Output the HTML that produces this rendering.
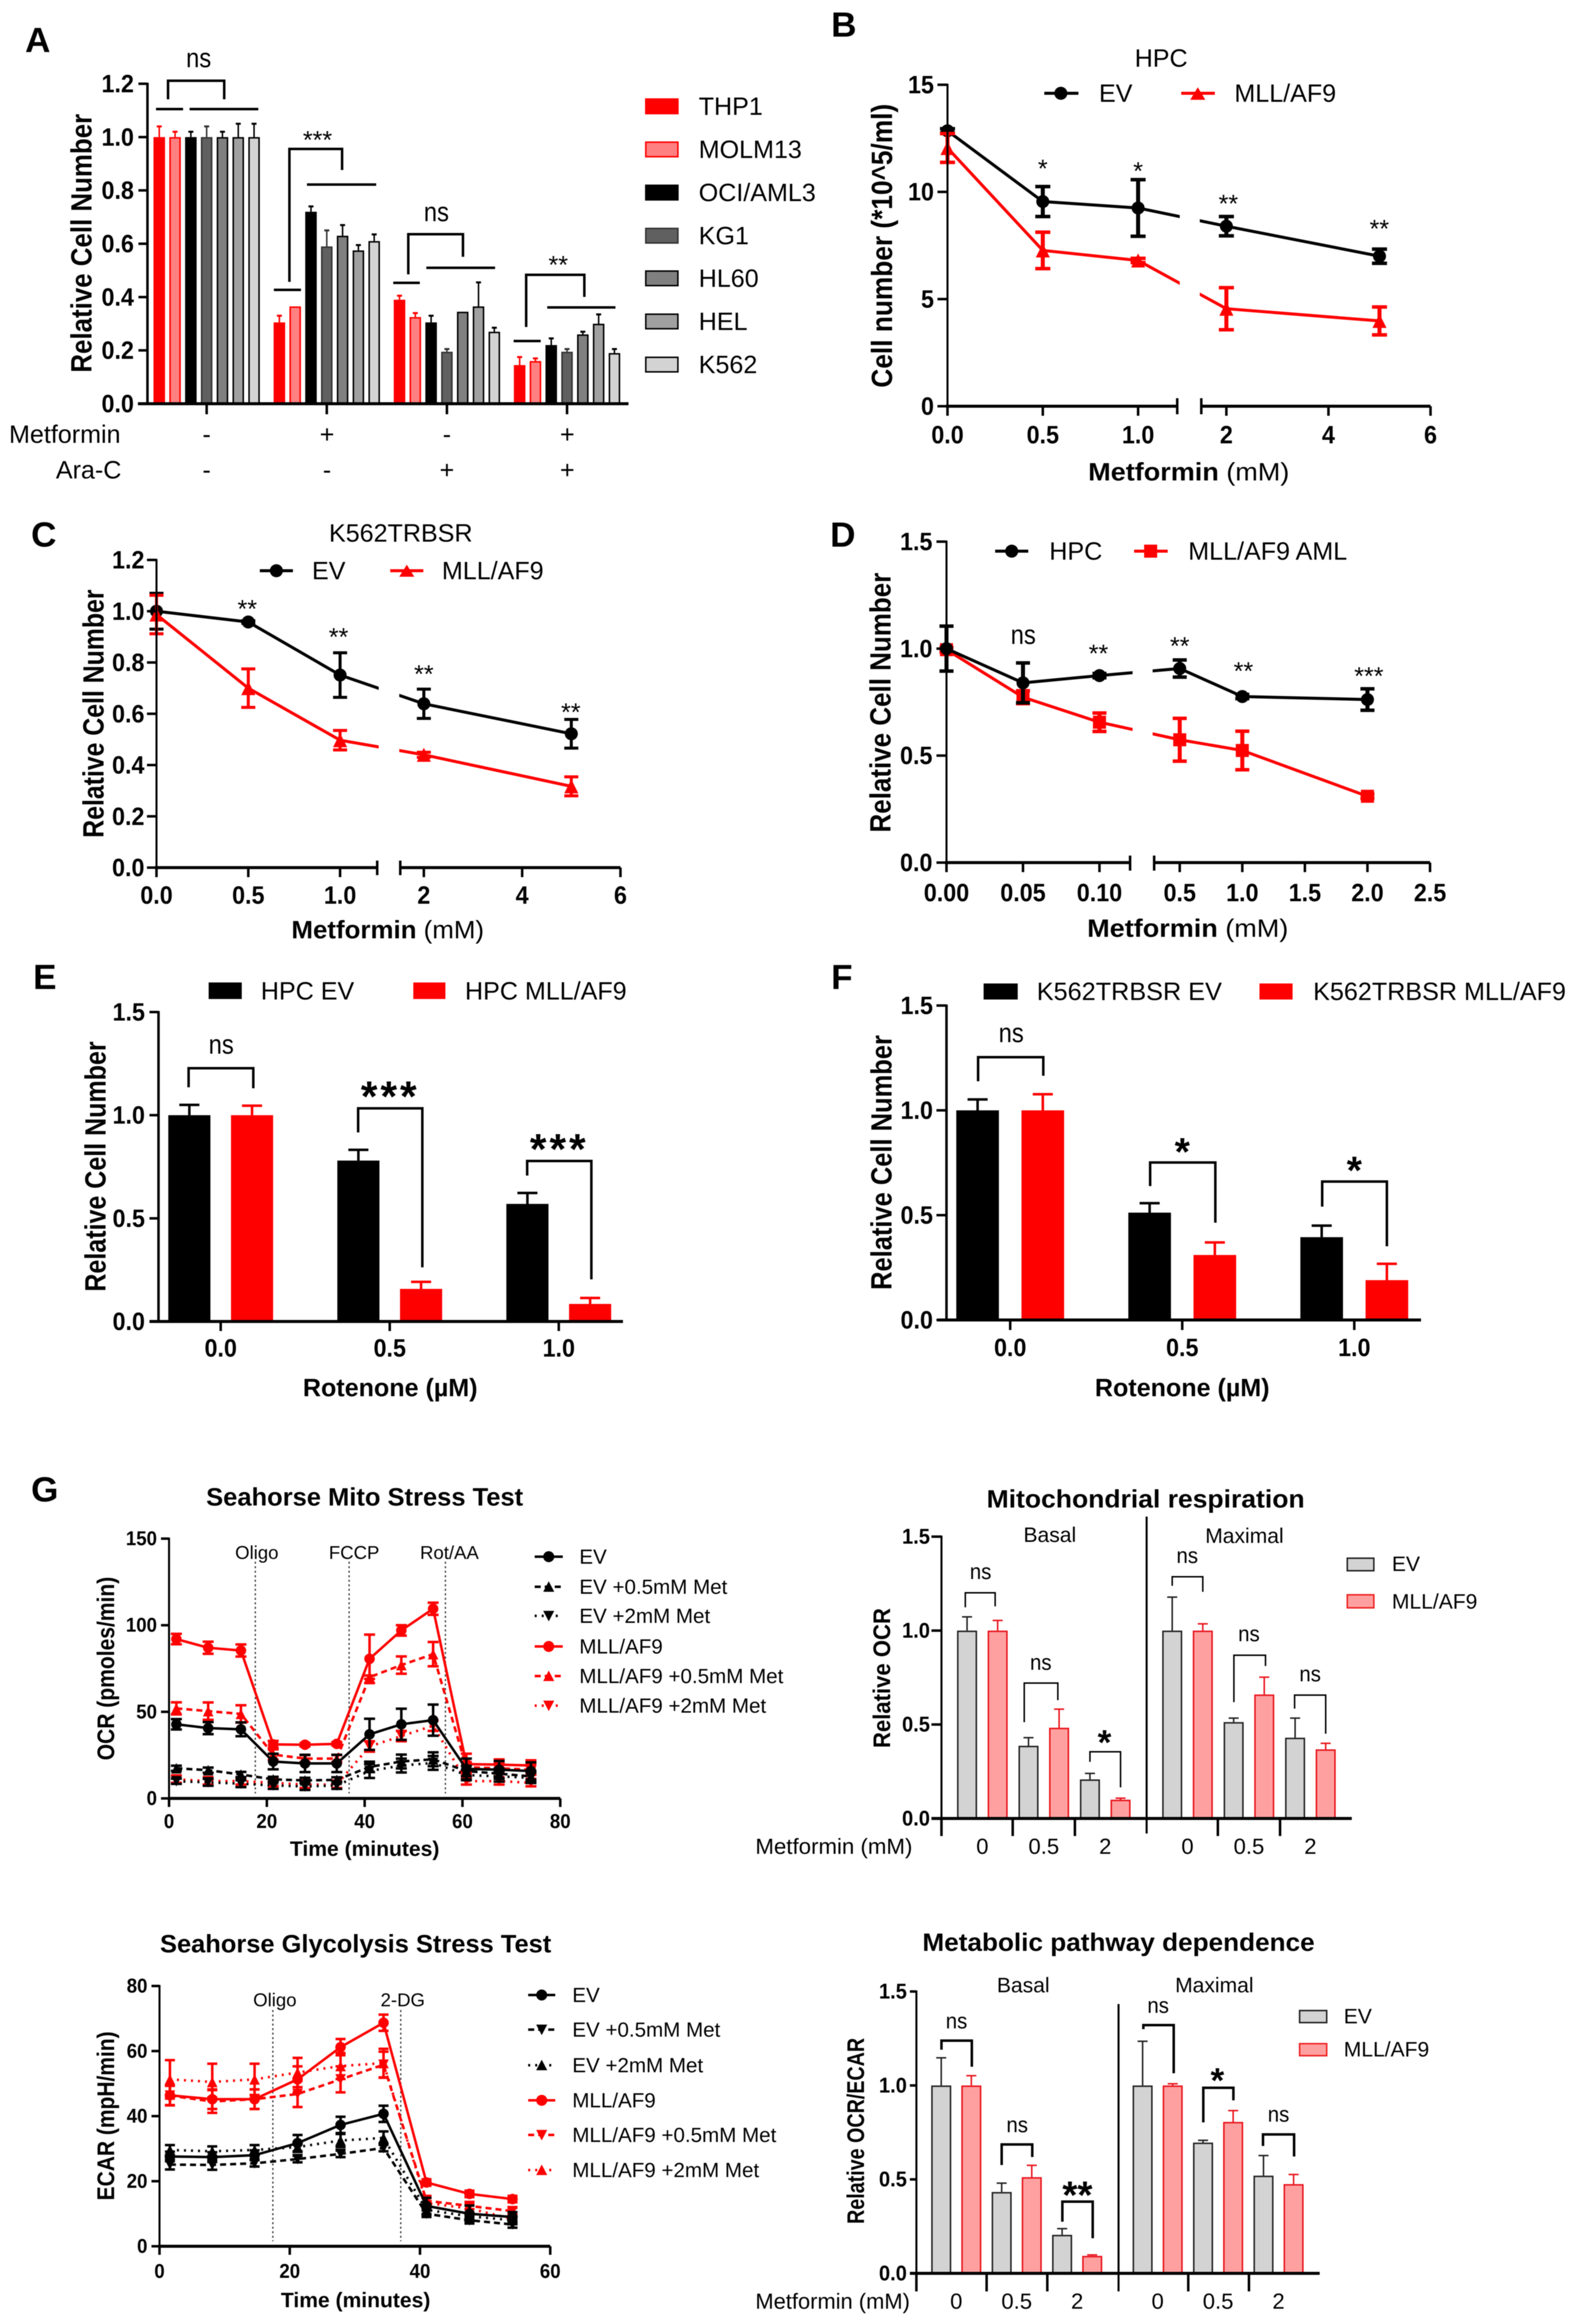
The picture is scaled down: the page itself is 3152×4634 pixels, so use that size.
<!DOCTYPE html>
<html lang="en">
<head>
<meta charset="utf-8">
<title>Metformin and rotenone sensitivity figure</title>
<style>
html,body{margin:0;padding:0;background:#fff;width:3152px;height:4634px;overflow:hidden}
svg{display:block;filter:blur(.7px)}
text{font-family:"Liberation Sans",Arial,sans-serif;fill:#000;dominant-baseline:central}
.b{font-weight:bold}
.m{text-anchor:middle}
.e{text-anchor:end}
.s70{font-size:70px}.s58{font-size:58px}.s54{font-size:54px}.s50{font-size:50px}.s48{font-size:48px}.s44{font-size:44px}.s43{font-size:43px}.s42{font-size:42px}.s41{font-size:41px}.s40{font-size:40px}.s37{font-size:37px}
.br{fill:none;stroke:#000;stroke-width:5}
.br3{fill:none;stroke:#000;stroke-width:3}
.vd{stroke:#333;stroke-width:2.5;stroke-dasharray:4 5}
</style>
</head>
<body>
<svg id="figure" xmlns="http://www.w3.org/2000/svg" width="3152" height="4634" viewBox="0 0 3152 4634">
<rect x="0" y="0" width="3152" height="4634" fill="#fff"/>

<g id="panel-a">
  <text class="b s70" x="50" y="80">A</text>
  <text class="b s58 m" x="163" y="485" textLength="516" lengthAdjust="spacingAndGlyphs" transform="rotate(-90 163 485)">Relative Cell Number</text>
  <text class="s50" x="18" y="866">Metformin</text>
  <text class="s50 e" x="242" y="937">Ara-C</text>
  <text class="s50 m" x="412" y="866">-</text>
  <text class="s50 m" x="652" y="866">+</text>
  <text class="s50 m" x="891" y="866">-</text>
  <text class="s50 m" x="1131" y="866">+</text>
  <text class="s50 m" x="412" y="937">-</text>
  <text class="s50 m" x="652" y="937">-</text>
  <text class="s50 m" x="891" y="937">+</text>
  <text class="s50 m" x="1131" y="937">+</text>
  <text class="s54 m" x="396" y="116" textLength="50" lengthAdjust="spacingAndGlyphs">ns</text>
  <path class="br" d="M335 198V161H447V198"/>
  <path class="br" stroke-width="6" d="M311 217.5H365M378 217.5H515"/>
  <text class="s50 m" x="633" y="279">***</text>
  <path class="br" d="M577 562V297H682V339"/>
  <path class="br" d="M546 578H600M612 368H750"/>
  <text class="s54 m" x="870" y="423" textLength="50" lengthAdjust="spacingAndGlyphs">ns</text>
  <path class="br" d="M814 547V467H923V512"/>
  <path class="br" d="M784 564H837M850 534H987"/>
  <text class="s50 m" x="1113" y="528">**</text>
  <path class="br" d="M1049 652V548H1165V592"/>
  <path class="br" d="M1024 680H1078M1091 613H1227"/>
  <g>
    <rect x="1286" y="196" width="67" height="32" fill="#ff0000"/>
    <text class="s50" x="1393" y="212">THP1</text>
    <rect x="1287.500" y="283.500" width="64" height="29" fill="#ff8080" stroke="#f00" stroke-width="3"/>
    <text class="s50" x="1393" y="298">MOLM13</text>
    <rect x="1286" y="368" width="67" height="32" fill="#000"/>
    <text class="s50" x="1393" y="384">OCI/AML3</text>
    <rect x="1287.500" y="455.500" width="64" height="29" fill="#606060" stroke="#333" stroke-width="3"/>
    <text class="s50" x="1393" y="470">KG1</text>
    <rect x="1287.500" y="540.500" width="64" height="29" fill="#808080" stroke="#000" stroke-width="3"/>
    <text class="s50" x="1393" y="555">HL60</text>
    <rect x="1287.500" y="626.500" width="64" height="29" fill="#a0a0a0" stroke="#000" stroke-width="3"/>
    <text class="s50" x="1393" y="641">HEL</text>
    <rect x="1287.500" y="712.500" width="64" height="29" fill="#d3d3d3" stroke="#000" stroke-width="3"/>
    <text class="s50" x="1393" y="727">K562</text>
  </g>
</g>

<g id="panel-b">
  <text class="b s70" x="1657" y="49">B</text>
  <text class="s50 m" x="2315" y="116">HPC</text>
  <text class="b s58 m" x="1759" y="490" textLength="566" lengthAdjust="spacingAndGlyphs" transform="rotate(-90 1759 490)">Cell number (*10^5/ml)</text>
  <text class="b s50 m" x="2370" y="941" textLength="401" lengthAdjust="spacingAndGlyphs">Metformin <tspan font-weight="normal">(mM)</tspan></text>
  <text class="s50 m" x="2079" y="336">*</text>
  <text class="s50 m" x="2269" y="341">*</text>
  <text class="s50 m" x="2449" y="406">**</text>
  <text class="s50 m" x="2750" y="456">**</text>
  <line x1="2082" y1="186" x2="2150" y2="186" stroke="#000" stroke-width="6"/>
  <circle cx="2115" cy="186" r="13"/>
  <text class="s50" x="2191" y="186">EV</text>
  <line x1="2355" y1="186" x2="2422" y2="186" stroke="#f00" stroke-width="6"/>
  <polygon points="2388,174 2373,199 2403,199" fill="#f00"/>
  <text class="s50" x="2461" y="186">MLL/AF9</text>
</g>

<g id="panel-c">
  <text class="b s70" x="62" y="1066">C</text>
  <text class="s50 m" x="799" y="1063">K562TRBSR</text>
  <text class="b s58 m" x="187" y="1423" textLength="495" lengthAdjust="spacingAndGlyphs" transform="rotate(-90 187 1423)">Relative Cell Number</text>
  <text class="b s50 m" x="773" y="1854" textLength="384" lengthAdjust="spacingAndGlyphs">Metformin <tspan font-weight="normal">(mM)</tspan></text>
  <text class="s50 m" x="493" y="1214">**</text>
  <text class="s50 m" x="675" y="1270">**</text>
  <text class="s50 m" x="845" y="1344">**</text>
  <text class="s50 m" x="1138" y="1420">**</text>
  <line x1="518" y1="1138" x2="584" y2="1138" stroke="#000" stroke-width="6"/>
  <circle cx="551" cy="1138" r="13"/>
  <text class="s50" x="622" y="1138">EV</text>
  <line x1="778" y1="1138" x2="844" y2="1138" stroke="#f00" stroke-width="6"/>
  <polygon points="811,1126 796,1150 826,1150" fill="#f00"/>
  <text class="s50" x="881" y="1138">MLL/AF9</text>
</g>

<g id="panel-d">
  <text class="b s70" x="1655" y="1066">D</text>
  <text class="b s58 m" x="1756" y="1401" textLength="518" lengthAdjust="spacingAndGlyphs" transform="rotate(-90 1756 1401)">Relative Cell Number</text>
  <text class="b s50 m" x="2368" y="1851" textLength="401" lengthAdjust="spacingAndGlyphs">Metformin <tspan font-weight="normal">(mM)</tspan></text>
  <text class="s54 m" x="2040" y="1266" textLength="50" lengthAdjust="spacingAndGlyphs">ns</text>
  <text class="s50 m" x="2190" y="1303">**</text>
  <text class="s50 m" x="2352" y="1288">**</text>
  <text class="s50 m" x="2479" y="1338">**</text>
  <text class="s50 m" x="2729" y="1348">***</text>
  <line x1="1984" y1="1099" x2="2050" y2="1099" stroke="#000" stroke-width="6"/>
  <circle cx="2017" cy="1099" r="13"/>
  <text class="s50" x="2092" y="1099">HPC</text>
  <line x1="2261" y1="1099" x2="2328" y2="1099" stroke="#f00" stroke-width="6"/>
  <rect x="2281" y="1086" width="26" height="26" fill="#f00"/>
  <text class="s50" x="2369" y="1099">MLL/AF9 AML</text>
</g>

<g id="panel-e">
  <text class="b s70" x="66" y="1948">E</text>
  <rect x="416" y="1959" width="66" height="33" fill="#000"/>
  <text class="s50" x="520" y="1976">HPC EV</text>
  <rect x="824" y="1959" width="64" height="33" fill="#f00"/>
  <text class="s50" x="927" y="1976">HPC MLL/AF9</text>
  <text class="b s58 m" x="191" y="2326" textLength="499" lengthAdjust="spacingAndGlyphs" transform="rotate(-90 191 2326)">Relative Cell Number</text>
  <text class="b s50 m" x="778" y="2767">Rotenone (µM)</text>
  <text class="s54 m" x="441" y="2083" textLength="50" lengthAdjust="spacingAndGlyphs">ns</text>
  <path class="br" d="M376 2168V2130H505V2170"/>
  <text class="b m" font-size="85" letter-spacing="6" x="778" y="2187">***</text>
  <path class="br" d="M714 2258V2210H842V2527"/>
  <text class="b m" font-size="85" letter-spacing="6" x="1115" y="2292">***</text>
  <path class="br" d="M1051 2344V2315H1179V2551"/>
</g>

<g id="panel-f">
  <text class="b s70" x="1657" y="1948">F</text>
  <rect x="1961" y="1961" width="68" height="32" fill="#000"/>
  <text class="s50" x="2067" y="1977" textLength="369" lengthAdjust="spacingAndGlyphs">K562TRBSR EV</text>
  <rect x="2511" y="1961" width="66" height="32" fill="#f00"/>
  <text class="s50" x="2618" y="1977" textLength="504" lengthAdjust="spacingAndGlyphs">K562TRBSR MLL/AF9</text>
  <text class="b s58 m" x="1758" y="2318" textLength="508" lengthAdjust="spacingAndGlyphs" transform="rotate(-90 1758 2318)">Relative Cell Number</text>
  <text class="b s50 m" x="2357" y="2767">Rotenone (µM)</text>
  <text class="s54 m" x="2016" y="2060" textLength="50" lengthAdjust="spacingAndGlyphs">ns</text>
  <path class="br" d="M1950 2156V2108H2080V2145"/>
  <text class="b m" font-size="78" x="2357" y="2296">*</text>
  <path class="br" d="M2293 2365V2318H2423V2438"/>
  <text class="b m" font-size="78" x="2700" y="2333">*</text>
  <path class="br" d="M2636 2406V2356H2765V2485"/>
</g>

<g id="panel-g1">
  <text class="b s70" x="62" y="2970">G</text>
  <text class="b s50 m" x="727" y="2985" textLength="632" lengthAdjust="spacingAndGlyphs">Seahorse Mito Stress Test</text>
  <text class="b s48 m" x="212" y="3327" textLength="366" lengthAdjust="spacingAndGlyphs" transform="rotate(-90 212 3327)">OCR (pmoles/min)</text>
  <text class="b s42 m" x="727" y="3686" textLength="298" lengthAdjust="spacingAndGlyphs">Time (minutes)</text>
  <line class="vd" x1="509" y1="3114" x2="509" y2="3576"/>
  <line class="vd" x1="696" y1="3114" x2="696" y2="3576"/>
  <line class="vd" x1="888" y1="3114" x2="888" y2="3576"/>
  <text class="s37 m" x="512" y="3096">Oligo</text>
  <text class="s37 m" x="706" y="3096">FCCP</text>
  <text class="s37 m" x="896" y="3096">Rot/AA</text>
  <g>
    <line x1="1066" y1="3104" x2="1122" y2="3104" stroke="#000" stroke-width="5"/>
    <circle cx="1094" cy="3104" r="11"/>
    <text class="s41" x="1155" y="3104">EV</text>
    <line x1="1066" y1="3164" x2="1122" y2="3164" stroke="#000" stroke-width="5" stroke-dasharray="12 8"/>
    <polygon points="1094,3153 1083,3174 1105,3174"/>
    <text class="s41" x="1155" y="3164">EV +0.5mM Met</text>
    <line x1="1066" y1="3222" x2="1122" y2="3222" stroke="#000" stroke-width="5" stroke-dasharray="4 10"/>
    <polygon points="1094,3233 1083,3212 1105,3212"/>
    <text class="s41" x="1155" y="3222">EV +2mM Met</text>
    <line x1="1066" y1="3283" x2="1122" y2="3283" stroke="#f00" stroke-width="5"/>
    <circle cx="1094" cy="3283" r="11" fill="#f00"/>
    <text class="s41" x="1155" y="3283">MLL/AF9</text>
    <line x1="1066" y1="3342" x2="1122" y2="3342" stroke="#f00" stroke-width="5" stroke-dasharray="12 8"/>
    <polygon points="1094,3331 1083,3352 1105,3352" fill="#f00"/>
    <text class="s41" x="1155" y="3342">MLL/AF9 +0.5mM Met</text>
    <line x1="1066" y1="3401" x2="1122" y2="3401" stroke="#f00" stroke-width="5" stroke-dasharray="4 10"/>
    <polygon points="1094,3412 1083,3391 1105,3391" fill="#f00"/>
    <text class="s41" x="1155" y="3401">MLL/AF9 +2mM Met</text>
  </g>
</g>

<g id="panel-g2">
  <text class="b s50 m" x="2284" y="2989" textLength="634" lengthAdjust="spacingAndGlyphs">Mitochondrial respiration</text>
  <text class="s42 m" x="2093" y="3060">Basal</text>
  <text class="s42 m" x="2481" y="3062">Maximal</text>
  <text class="b s48 m" x="1759" y="3346" textLength="279" lengthAdjust="spacingAndGlyphs" transform="rotate(-90 1759 3346)">Relative OCR</text>
  <line x1="2286" y1="3024" x2="2286" y2="3656" stroke="#000" stroke-width="4"/>
  <path class="br" stroke-width="4" d="M1877 3626V3661M2019 3626V3661M2143 3626V3661M2428 3626V3661M2552 3626V3661"/>
  <text class="s44" x="1506" y="3682" textLength="313" lengthAdjust="spacingAndGlyphs">Metformin (mM)</text>
  <text class="s44 m" x="1955" y="3134" textLength="43" lengthAdjust="spacingAndGlyphs">ns</text>
  <path class="br3" d="M1924.500 3205V3176H1984V3203"/>
  <text class="s44 m" x="2075" y="3315" textLength="43" lengthAdjust="spacingAndGlyphs">ns</text>
  <path class="br3" d="M2042 3434V3356H2109V3390"/>
  <text class="b m" font-size="70" x="2202" y="3474">*</text>
  <path class="br3" d="M2173 3513V3493H2234V3564"/>
  <text class="s44 m" x="2367" y="3102" textLength="43" lengthAdjust="spacingAndGlyphs">ns</text>
  <path class="br3" d="M2337 3162V3144H2398V3174"/>
  <text class="s44 m" x="2490" y="3258" textLength="43" lengthAdjust="spacingAndGlyphs">ns</text>
  <path class="br3" d="M2460 3394V3300.500H2523V3322"/>
  <text class="s44 m" x="2612" y="3338" textLength="43" lengthAdjust="spacingAndGlyphs">ns</text>
  <path class="br3" d="M2581 3407V3380H2643V3457"/>
  <rect x="2686" y="3107" width="53" height="25" fill="#d3d3d3" stroke="#222" stroke-width="3"/>
  <text class="s42" x="2775" y="3118">EV</text>
  <rect x="2686" y="3180" width="53" height="26" fill="#ffa0a0" stroke="#e22" stroke-width="3"/>
  <text class="s42" x="2775" y="3193">MLL/AF9</text>
</g>

<g id="panel-g3">
  <text class="b s50 m" x="709" y="3876" textLength="780" lengthAdjust="spacingAndGlyphs">Seahorse Glycolysis Stress Test</text>
  <text class="b s48 m" x="212" y="4219" textLength="337" lengthAdjust="spacingAndGlyphs" transform="rotate(-90 212 4219)">ECAR (mpH/min)</text>
  <text class="b s42 m" x="709" y="4586" textLength="298" lengthAdjust="spacingAndGlyphs">Time (minutes)</text>
  <line class="vd" x1="544" y1="4008" x2="544" y2="4469"/>
  <line class="vd" x1="799" y1="4008" x2="799" y2="4469"/>
  <text class="s37 m" x="548" y="3988">Oligo</text>
  <text class="s37 m" x="803" y="3988">2-DG</text>
  <g>
    <line x1="1053" y1="3978" x2="1107" y2="3978" stroke="#000" stroke-width="5"/>
    <circle cx="1080" cy="3978" r="11"/>
    <text class="s41" x="1141" y="3978">EV</text>
    <line x1="1053" y1="4047" x2="1107" y2="4047" stroke="#000" stroke-width="5" stroke-dasharray="12 8"/>
    <polygon points="1080,4058 1069,4037 1091,4037"/>
    <text class="s41" x="1141" y="4047">EV +0.5mM Met</text>
    <line x1="1053" y1="4118" x2="1107" y2="4118" stroke="#000" stroke-width="5" stroke-dasharray="4 10"/>
    <polygon points="1080,4107 1069,4128 1091,4128"/>
    <text class="s41" x="1141" y="4118">EV +2mM Met</text>
    <line x1="1053" y1="4188" x2="1107" y2="4188" stroke="#f00" stroke-width="5"/>
    <circle cx="1080" cy="4188" r="11" fill="#f00"/>
    <text class="s41" x="1141" y="4188">MLL/AF9</text>
    <line x1="1053" y1="4257" x2="1107" y2="4257" stroke="#f00" stroke-width="5" stroke-dasharray="12 8"/>
    <polygon points="1080,4268 1069,4247 1091,4247" fill="#f00"/>
    <text class="s41" x="1141" y="4257">MLL/AF9 +0.5mM Met</text>
    <line x1="1053" y1="4327" x2="1107" y2="4327" stroke="#f00" stroke-width="5" stroke-dasharray="4 10"/>
    <polygon points="1080,4316 1069,4337 1091,4337" fill="#f00"/>
    <text class="s41" x="1141" y="4327">MLL/AF9 +2mM Met</text>
  </g>
</g>

<g id="panel-g4">
  <text class="b s50 m" x="2230" y="3873" textLength="782" lengthAdjust="spacingAndGlyphs">Metabolic pathway dependence</text>
  <text class="s42 m" x="2040" y="3958">Basal</text>
  <text class="s42 m" x="2421" y="3958">Maximal</text>
  <text class="b s48 m" x="1707" y="4249" textLength="371" lengthAdjust="spacingAndGlyphs" transform="rotate(-90 1707 4249)">Relative OCR/ECAR</text>
  <line x1="2230" y1="3996" x2="2230" y2="4569" stroke="#000" stroke-width="4"/>
  <path class="br" stroke-width="4" d="M1827 4533V4569M1967 4533V4569M2088 4533V4569M2369 4533V4569M2490 4533V4569"/>
  <text class="s44" x="1506" y="4589" textLength="308" lengthAdjust="spacingAndGlyphs">Metformin (mM)</text>
  <text class="s44 m" x="1907" y="4030" textLength="43" lengthAdjust="spacingAndGlyphs">ns</text>
  <path class="br" d="M1877 4087V4069H1937.500V4121"/>
  <text class="s44 m" x="2028" y="4237" textLength="43" lengthAdjust="spacingAndGlyphs">ns</text>
  <path class="br" d="M1997 4317V4276H2058V4301"/>
  <text class="b m" font-size="77" x="2148" y="4377">**</text>
  <path class="br" d="M2118 4430V4390H2178.500V4463"/>
  <text class="s44 m" x="2309" y="3999" textLength="43" lengthAdjust="spacingAndGlyphs">ns</text>
  <path class="br" d="M2279.500 4046V4038H2340V4134"/>
  <text class="b m" font-size="70" x="2427" y="4148">*</text>
  <path class="br" d="M2399 4232V4163H2459V4188"/>
  <text class="s44 m" x="2549" y="4216" textLength="43" lengthAdjust="spacingAndGlyphs">ns</text>
  <path class="br" d="M2518 4279V4256H2580V4300"/>
  <rect x="2591" y="4009" width="54" height="24" fill="#d3d3d3" stroke="#222" stroke-width="3"/>
  <text class="s42" x="2679" y="4020">EV</text>
  <rect x="2591" y="4075" width="54" height="24" fill="#ffa0a0" stroke="#e22" stroke-width="3"/>
  <text class="s42" x="2679" y="4086">MLL/AF9</text>
</g>
</svg>

<script>
/* ---------- Panel A data ---------- */
const aSeriesNames = ['thp1', 'molm13', 'oci-aml3', 'kg1', 'hl60', 'hel', 'k562'];
const aYTicks = [0, 0.2, 0.4, 0.6, 0.8, 1.0, 1.2];
const aYLabels = ['0.0', '0.2', '0.4', '0.6', '0.8', '1.0', '1.2'];
const aValues = [
  [1, 1, 1, 1, 1, 1, 1],
  [0.305, 0.365, 0.72, 0.59, 0.63, 0.575, 0.61],
  [0.39, 0.325, 0.305, 0.195, 0.345, 0.365, 0.27],
  [0.145, 0.16, 0.22, 0.195, 0.26, 0.30, 0.19]
];
const aErrors = [
  [0.04, 0.02, 0.02, 0.04, 0.02, 0.05, 0.05],
  [0.025, 0, 0.02, 0.06, 0.04, 0.02, 0.025],
  [0.015, 0.015, 0.025, 0.01, 0, 0.09, 0.015],
  [0.03, 0.01, 0.025, 0.01, 0.01, 0.035, 0.015]
];

/* ---------- Panel B data ---------- */
const bDoses = [0, 0.5, 1, 2, 5];
const bEv = [12.85, 9.55, 9.25, 8.4, 7.0];
const bEvErr = [0.1, 0.7, 1.32, 0.45, 0.33];
const bMll = [12.05, 7.27, 6.8, 4.55, 3.98];
const bMllErr = [0.67, 0.85, 0.1, 0.98, 0.65];
const bYTicks = [0, 5, 10, 15];
const bYLabels = ['0', '5', '10', '15'];
const bXTicks = [0, 0.5, 1, 2, 4, 6];
const bXLabels = ['0.0', '0.5', '1.0', '2', '4', '6'];

/* ---------- Panel C data ---------- */
const cDoses = [0, 0.5, 1, 2, 5];
const cEv = [1.0, 0.958, 0.751, 0.639, 0.522];
const cEvErr = [0.07, 0.005, 0.087, 0.057, 0.056];
const cMll = [0.987, 0.70, 0.497, 0.44, 0.317];
const cMllErr = [0.075, 0.075, 0.038, 0.01, 0.037];
const cYTicks = [0, 0.2, 0.4, 0.6, 0.8, 1.0, 1.2];
const cYLabels = ['0.0', '0.2', '0.4', '0.6', '0.8', '1.0', '1.2'];
const cXTicks = [0, 0.5, 1, 2, 4, 6];
const cXLabels = ['0.0', '0.5', '1.0', '2', '4', '6'];

/* ---------- Panel D data ---------- */
const dDoses = [0, 0.05, 0.1, 0.5, 1, 2];
const dHpc = [1.0, 0.84, 0.874, 0.907, 0.776, 0.762];
const dHpcErr = [0.105, 0.093, 0.01, 0.04, 0.01, 0.05];
const dMll = [0.995, 0.773, 0.656, 0.574, 0.524, 0.31];
const dMllErr = [0.01, 0.03, 0.043, 0.1, 0.09, 0.01];
const dYTicks = [0, 0.5, 1.0, 1.5];
const dYLabels = ['0.0', '0.5', '1.0', '1.5'];
const dXTicks = [0, 0.05, 0.1, 0.5, 1, 1.5, 2, 2.5];
const dXLabels = ['0.00', '0.05', '0.10', '0.5', '1.0', '1.5', '2.0', '2.5'];

/* ---------- Panel E data ---------- */
const eDoses = ['0.0', '0.5', '1.0'];
const eEv = [1.0, 0.78, 0.57];
const eEvErr = [0.05, 0.052, 0.053];
const eMll = [1.0, 0.158, 0.085];
const eMllErr = [0.046, 0.034, 0.029];
const eYTicks = [0, 0.5, 1.0, 1.5];
const eYLabels = ['0.0', '0.5', '1.0', '1.5'];

/* ---------- Panel F data ---------- */
const fDoses = ['0.0', '0.5', '1.0'];
const fEv = [1.0, 0.512, 0.395];
const fEvErr = [0.052, 0.045, 0.055];
const fMll = [1.0, 0.31, 0.19];
const fMllErr = [0.077, 0.06, 0.078];
const fYTicks = [0, 0.5, 1.0, 1.5];
const fYLabels = ['0.0', '0.5', '1.0', '1.5'];

/* ---------- Panel G mito stress data ---------- */
const ocrTimes = [1.5, 8, 14.7, 21.3, 27.8, 34.3, 41, 47.5, 54, 60.8, 67.5, 74];
const ocrEv = [42.8, 40.6, 39.9, 21.3, 20.2, 20.2, 37, 42.8, 45.2, 17, 16.6, 15.8];
const ocrEvErr = [3, 3.5, 4, 4.5, 5, 5, 9, 9, 9, 6, 5, 5];
const ocrEv05 = [17.4, 16.3, 13.8, 11, 10.4, 10.7, 18.2, 21.3, 22.6, 15.8, 14.3, 12.7];
const ocrEv05Err = [1.5, 1.5, 1.5, 1.5, 1.5, 1.5, 3, 4, 4, 3, 3, 3];
const ocrEv2 = [9.9, 9.3, 8.5, 7.5, 6.9, 7.5, 15.8, 19, 20.5, 13.5, 12.7, 11.9];
const ocrEv2Err = [1.5, 2, 2, 2, 2, 2, 4, 4, 4, 3, 3, 3];
const ocrMll = [92, 87, 85.4, 31.2, 31, 31.5, 80.6, 97, 109.5, 19.8, 19.5, 19];
const ocrMllErr = [3, 3.5, 3.5, 2, 1, 1, 14, 3, 3.5, 6, 3, 3];
const ocrMll05 = [52, 50.4, 48.8, 25.3, 23, 23, 70, 77, 83.3, 18, 17.4, 16.6];
const ocrMll05Err = [3.5, 5, 5, 3, 2, 2, 1, 5, 7, 3, 3, 3];
const ocrMll2 = [11, 10, 10, 9, 8, 8, 30, 36, 42, 10, 10, 9];
const ocrMll2Err = [2, 2, 2, 2, 2, 2, 3, 3, 3, 2, 2, 2];
const ocrYTicks = [0, 50, 100, 150];
const ocrYLabels = ['0', '50', '100', '150'];
const ocrXTicks = [0, 20, 40, 60, 80];
const ocrXLabels = ['0', '20', '40', '60', '80'];

/* ---------- Panel G mitochondrial respiration data ---------- */
const respDoses = ['0', '0.5', '2', '0', '0.5', '2'];
const respEv = [1.0, 0.387, 0.208, 1.0, 0.513, 0.43];
const respEvErr = [0.073, 0.043, 0.032, 0.178, 0.021, 0.104];
const respMll = [1.0, 0.483, 0.10, 1.0, 0.66, 0.368];
const respMllErr = [0.054, 0.099, 0.008, 0.036, 0.092, 0.032];
const respYTicks = [0, 0.5, 1.0, 1.5];
const respYLabels = ['0.0', '0.5', '1.0', '1.5'];

/* ---------- Panel G glycolysis stress data ---------- */
const ecarTimes = [1.6, 8.1, 14.6, 21.2, 27.8, 34.4, 41, 47.6, 54.2];
const ecarEv = [27.6, 27.4, 28, 31.7, 37.3, 40.7, 12.4, 10, 9];
const ecarEvErr = [1.5, 1.5, 1.5, 2.5, 2.5, 2.5, 2.5, 2.5, 1.5];
const ecarEv05 = [25.1, 25, 25.5, 26.8, 28.4, 30.2, 10, 8, 6.7];
const ecarEv05Err = [1.5, 1.5, 1, 1, 1, 1, 1, 1, 1];
const ecarEv2 = [29.6, 29.2, 29.6, 30.5, 32.5, 33.3, 11.2, 9.2, 8];
const ecarEv2Err = [1.5, 1.5, 1.5, 1.5, 2, 2, 1.5, 1, 1];
const ecarMll = [46.4, 45.2, 45.2, 51.3, 61.2, 68.7, 19.6, 16.1, 14.5];
const ecarMllErr = [3, 3, 3, 4, 2.5, 2.5, 1, 1, 1];
const ecarMll05 = [46.3, 44.5, 45.2, 46.8, 51.3, 55.8, 14, 12.4, 10.8];
const ecarMll05Err = [3, 3.5, 3, 4, 4, 4, 1.5, 1, 1];
const ecarMll2 = [51.3, 50.5, 51.3, 53.4, 55.4, 56.3, 13.3, 11.6, 8.4];
const ecarMll2Err = [5.9, 5.6, 4.8, 4.5, 4, 4.4, 1.5, 1.5, 1];
const ecarYTicks = [0, 20, 40, 60, 80];
const ecarYLabels = ['0', '20', '40', '60', '80'];
const ecarXTicks = [0, 20, 40, 60];
const ecarXLabels = ['0', '20', '40', '60'];

/* ---------- Panel G metabolic pathway dependence data ---------- */
const pathDoses = ['0', '0.5', '2', '0', '0.5', '2'];
const pathEv = [1.0, 0.433, 0.205, 1.0, 0.696, 0.52];
const pathEvErr = [0.147, 0.047, 0.033, 0.235, 0.012, 0.107];
const pathMll = [1.0, 0.512, 0.093, 1.0, 0.806, 0.475];
const pathMllErr = [0.052, 0.063, 0.005, 0.009, 0.06, 0.051];
const pathYTicks = [0, 0.5, 1.0, 1.5];
const pathYLabels = ['0.0', '0.5', '1.0', '1.5'];

/* ---------- Drawing helpers ---------- */
const SVG_NS = 'http://www.w3.org/2000/svg';
const TICK_CONDENSE = 0.93;

function add(tag, name, attrs, parent) {
  const node = document.createElementNS(SVG_NS, tag);
  
  
  for (const key in attrs) node.setAttribute(key, attrs[key]);
  parent.appendChild(node);
  return node;
}
function linear(d0, d1, r0, r1) {
  return v => r0 + (v - d0) * (r1 - r0) / (d1 - d0);
}
function broken(first, second, breakValue) {
  return v => (v <= breakValue ? first(v) : second(v));
}
function seg(name, x1, y1, x2, y2, color, width, parent, dash) {
  const attrs = { x1, y1, x2, y2, stroke: color, 'stroke-width': width };
  if (dash) attrs['stroke-dasharray'] = dash;
  return add('line', name, attrs, parent);
}
function label(name, x, y, str, cls, parent) {
  const node = add('text', name, { x, y, class: cls }, parent);
  node.textContent = str;
  return node;
}
function condense(node) {
  node.setAttribute('textLength', (node.getComputedTextLength() * TICK_CONDENSE).toFixed(1));
  node.setAttribute('lengthAdjust', 'spacingAndGlyphs');
}
function yAxis(o) {
  seg(o.id + '-y-axis', o.x, o.y(o.ticks[o.ticks.length - 1]) - 2, o.x, o.bottom, '#000', o.width, o.g);
  o.ticks.forEach((t, i) => {
    seg(o.id + '-y-tick-' + o.labels[i], o.x - o.tickLen, o.y(t), o.x, o.y(t), '#000', o.tickWidth || o.width, o.g);
    condense(label(o.id + '-y-tick-label-' + o.labels[i], o.labelX, o.y(t), o.labels[i], 'b e ' + o.cls, o.g));
  });
}
function xTicks(o) {
  o.ticks.forEach((t, i) => {
    seg(o.id + '-x-tick-' + o.labels[i], o.x(t), o.axisY, o.x(t), o.axisY + o.tickLen, '#000', o.width, o.g);
    condense(label(o.id + '-x-tick-label-' + o.labels[i], o.x(t), o.labelY, o.labels[i], 'b m ' + o.cls, o.g));
  });
}
function marker(name, kind, cx, cy, size, color, parent) {
  if (kind === 'circle') {
    add('circle', name, { cx, cy, r: size, fill: color }, parent);
  } else if (kind === 'square') {
    add('rect', name, { x: cx - size, y: cy - size, width: 2 * size, height: 2 * size, fill: color }, parent);
  } else {
    const dir = kind === 'up' ? 1 : -1;
    const pts = [cx, cy - dir * size, cx - size, cy + dir * size, cx + size, cy + dir * size].join(' ');
    add('polygon', name, { points: pts, fill: color }, parent);
  }
}
function series(o) {
  const pts = o.xs.map((v, i) => o.x(v) + ',' + o.y(o.ys[i])).join(' ');
  const attrs = { points: pts, fill: 'none', stroke: o.color, 'stroke-width': o.lw, 'stroke-linejoin': 'round' };
  if (o.dash) attrs['stroke-dasharray'] = o.dash;
  add('polyline', o.id + '-line', attrs, o.g);
  o.xs.forEach((v, i) => {
    const px = o.x(v);
    const hi = o.y(o.ys[i] + o.errs[i]);
    const lo = o.y(o.ys[i] - o.errs[i]);
    seg(o.id + '-error-stem-' + i, px, hi, px, lo, o.color, o.stem, o.g);
    seg(o.id + '-error-cap-top-' + i, px - o.cap, hi, px + o.cap, hi, o.color, o.capW, o.g);
    seg(o.id + '-error-cap-bottom-' + i, px - o.cap, lo, px + o.cap, lo, o.color, o.capW, o.g);
    marker(o.id + '-point-' + i, o.kind, px, o.y(o.ys[i]), o.size, o.color, o.g);
  });
}
function bar(o) {
  const top = o.y(o.value);
  const base = o.y(0);
  const hi = o.y(o.value + o.err);
  if (o.err > 0) {
    seg(o.id + '-error-stem', o.cx, top, o.cx, hi, o.edge, o.stem, o.g);
    seg(o.id + '-error-cap', o.cx - o.cap, hi, o.cx + o.cap, hi, o.edge, o.capW, o.g);
  }
  const inset = o.edgeWidth / 2;
  add('rect', o.id, {
    x: o.cx - o.w / 2 + inset, y: top + inset,
    width: o.w - 2 * inset, height: Math.max(base - top - inset, 0),
    fill: o.fill, stroke: o.edge, 'stroke-width': o.edgeWidth
  }, o.g);
}
function gapMask(name, x0, x1, top, bottom, parent) {
  add('rect', name, { x: x0, y: top, width: x1 - x0, height: bottom - top, fill: '#fff' }, parent);
}
function panel(id) {
  return document.getElementById(id);
}

/* ---------- Panel A ---------- */
(function () {
  const g = panel('panel-a');
  const y = linear(0, 1.2, 805, 167);
  const groupX = i => 412 + i * 239.5;
  const fills = ['#ff0000', '#ff8080', '#000000', '#606060', '#808080', '#a0a0a0', '#d3d3d3'];
  const edges = ['#ff0000', '#ff0000', '#000000', '#333333', '#000000', '#000000', '#000000'];
  aValues.forEach((row, gi) => {
    row.forEach((v, si) => {
      bar({ id: 'bar-' + aSeriesNames[si] + '-group-' + (gi + 1), g, y, value: v, err: aErrors[gi][si],
        cx: groupX(gi) + (si - 3) * 31.5, w: 23, fill: fills[si], edge: edges[si], edgeWidth: 3, stem: 3, cap: 5, capW: 4 });
    });
  });
  yAxis({ id: 'a', g, x: 294, y, ticks: aYTicks, labels: aYLabels, tickLen: 18, labelX: 267, cls: 's50', width: 5, bottom: 807 });
  seg('a-x-axis', 275, 805, 1253, 805, '#000', 6, g);
  aValues.forEach((row, gi) => {
    seg('a-x-tick-' + (gi + 1), groupX(gi), 805, groupX(gi), 826, '#000', 5, g);
  });
})();

/* ---------- Panel B ---------- */
(function () {
  const g = panel('panel-b');
  const y = linear(0, 15, 810, 169);
  const x = broken(linear(0, 1, 1889, 2269), linear(2, 6, 2445, 2852), 1.5);
  const style = { g, x, y, lw: 6, stem: 8, cap: 15, capW: 7 };
  series(Object.assign({ id: 'b-ev', xs: bDoses, ys: bEv, errs: bEvErr, color: '#000', kind: 'circle', size: 13 }, style));
  series(Object.assign({ id: 'b-mll-af9', xs: bDoses, ys: bMll, errs: bMllErr, color: '#f00', kind: 'up', size: 14 }, style));
  gapMask('b-axis-break-gap', 2352, 2392, 300, 790, g);
  yAxis({ id: 'b', g, x: 1889, y, ticks: bYTicks, labels: bYLabels, tickLen: 20, labelX: 1862, cls: 's50', width: 4, tickWidth: 5, bottom: 812 });
  seg('b-x-axis-left', 1886, 810, 2347, 810, '#000', 6, g);
  seg('b-x-axis-right', 2395, 810, 2852, 810, '#000', 6, g);
  seg('b-break-tick-left', 2347, 794, 2347, 826, '#000', 5, g);
  seg('b-break-tick-right', 2395, 794, 2395, 826, '#000', 5, g);
  xTicks({ id: 'b', g, x, ticks: bXTicks, labels: bXLabels, axisY: 810, tickLen: 19, labelY: 867, cls: 's50', width: 5 });
})();

/* ---------- Panel C ---------- */
(function () {
  const g = panel('panel-c');
  const y = linear(0, 1.2, 1730, 1116.5);
  const x = broken(linear(0, 1, 312, 678), linear(2, 6, 845, 1237), 1.5);
  const style = { g, x, y, lw: 6, stem: 6, cap: 14, capW: 6 };
  series(Object.assign({ id: 'c-ev', xs: cDoses, ys: cEv, errs: cEvErr, color: '#000', kind: 'circle', size: 13 }, style));
  series(Object.assign({ id: 'c-mll-af9', xs: cDoses, ys: cMll, errs: cMllErr, color: '#f00', kind: 'up', size: 14 }, style));
  gapMask('c-axis-break-gap', 755, 796, 1300, 1712, g);
  yAxis({ id: 'c', g, x: 312, y, ticks: cYTicks, labels: cYLabels, tickLen: 19, labelX: 288, cls: 's50', width: 4, tickWidth: 5, bottom: 1732 });
  seg('c-x-axis-left', 309, 1730, 752, 1730, '#000', 6, g);
  seg('c-x-axis-right', 798, 1730, 1237, 1730, '#000', 6, g);
  seg('c-break-tick-left', 752, 1716, 752, 1745, '#000', 5, g);
  seg('c-break-tick-right', 798, 1716, 798, 1745, '#000', 5, g);
  xTicks({ id: 'c', g, x, ticks: cXTicks, labels: cXLabels, axisY: 1730, tickLen: 19, labelY: 1785, cls: 's50', width: 5 });
})();

/* ---------- Panel D ---------- */
(function () {
  const g = panel('panel-d');
  const y = linear(0, 1.5, 1720, 1080);
  const x = broken(linear(0, 0.1, 1887, 2192), linear(0.5, 2.5, 2352, 2851), 0.3);
  const style = { g, x, y, lw: 6, stem: 8, cap: 14, capW: 7 };
  series(Object.assign({ id: 'd-mll-af9-aml', xs: dDoses, ys: dMll, errs: dMllErr, color: '#f00', kind: 'square', size: 13 }, style));
  series(Object.assign({ id: 'd-hpc', xs: dDoses, ys: dHpc, errs: dHpcErr, color: '#000', kind: 'circle', size: 13 }, style));
  gapMask('d-axis-break-gap', 2258, 2298, 1300, 1700, g);
  yAxis({ id: 'd', g, x: 1887, y, ticks: dYTicks, labels: dYLabels, tickLen: 20, labelX: 1859, cls: 's50', width: 4, tickWidth: 5, bottom: 1722 });
  seg('d-x-axis-left', 1884, 1720, 2253, 1720, '#000', 6, g);
  seg('d-x-axis-right', 2301, 1720, 2851, 1720, '#000', 6, g);
  seg('d-break-tick-left', 2253, 1706, 2253, 1736, '#000', 5, g);
  seg('d-break-tick-right', 2301, 1706, 2301, 1736, '#000', 5, g);
  xTicks({ id: 'd', g, x, ticks: dXTicks, labels: dXLabels, axisY: 1720, tickLen: 19, labelY: 1780, cls: 's50', width: 5 });
})();

/* ---------- Panels E and F ---------- */
function pairedBars(o) {
  o.doses.forEach((dose, i) => {
    bar({ id: o.id + '-bar-ev-' + dose, g: o.g, y: o.y, value: o.ev[i], err: o.evErr[i], cx: o.x(i) - o.offset, w: o.w, fill: '#000', edge: '#000', edgeWidth: 0.01, stem: 5, cap: 20, capW: 5 });
    bar({ id: o.id + '-bar-mll-af9-' + dose, g: o.g, y: o.y, value: o.mll[i], err: o.mllErr[i], cx: o.x(i) + o.offset, w: o.w, fill: '#f00', edge: '#f00', edgeWidth: 0.01, stem: 5, cap: 20, capW: 5 });
  });
}
(function () {
  const g = panel('panel-e');
  const y = linear(0, 1.5, 2635, 2018);
  const x = linear(0, 2, 440, 1114);
  pairedBars({ id: 'e', g, y, x, doses: eDoses, ev: eEv, evErr: eEvErr, mll: eMll, mllErr: eMllErr, offset: 62.5, w: 84 });
  yAxis({ id: 'e', g, x: 316, y, ticks: eYTicks, labels: eYLabels, tickLen: 18, labelX: 289, cls: 's50', width: 5, bottom: 2637 });
  seg('e-x-axis', 298, 2635, 1242, 2635, '#000', 6, g);
  eDoses.forEach((dose, i) => {
    seg('e-x-tick-' + dose, x(i), 2635, x(i), 2654, '#000', 5, g);
    condense(label('e-x-tick-label-' + dose, x(i), 2688, dose, 'b m s50', g));
  });
})();
(function () {
  const g = panel('panel-f');
  const y = linear(0, 1.5, 2632, 2005);
  const x = linear(0, 2, 2014, 2700);
  pairedBars({ id: 'f', g, y, x, doses: fDoses, ev: fEv, evErr: fEvErr, mll: fMll, mllErr: fMllErr, offset: 65, w: 85 });
  yAxis({ id: 'f', g, x: 1887, y, ticks: fYTicks, labels: fYLabels, tickLen: 20, labelX: 1860, cls: 's50', width: 5, bottom: 2634 });
  seg('f-x-axis', 1869, 2632, 2833, 2632, '#000', 6, g);
  fDoses.forEach((dose, i) => {
    seg('f-x-tick-' + dose, x(i), 2632, x(i), 2652, '#000', 5, g);
    condense(label('f-x-tick-label-' + dose, x(i), 2687, dose, 'b m s50', g));
  });
})();

/* ---------- Seahorse time courses ---------- */
(function () {
  const g = panel('panel-g1');
  const y = linear(0, 150, 3586, 3068);
  const x = linear(0, 80, 337, 1117);
  const style = { g, x, y, xs: ocrTimes, lw: 5, stem: 5, cap: 11, capW: 5, size: 10.5 };
  const DASH = '12 8', DOT = '4 10';
  series(Object.assign({ id: 'ocr-mll-2mm', ys: ocrMll2, errs: ocrMll2Err, color: '#f00', kind: 'down', dash: DOT }, style));
  series(Object.assign({ id: 'ocr-mll-05mm', ys: ocrMll05, errs: ocrMll05Err, color: '#f00', kind: 'up', dash: DASH }, style));
  series(Object.assign({ id: 'ocr-mll', ys: ocrMll, errs: ocrMllErr, color: '#f00', kind: 'circle' }, style));
  series(Object.assign({ id: 'ocr-ev-2mm', ys: ocrEv2, errs: ocrEv2Err, color: '#000', kind: 'down', dash: DOT }, style));
  series(Object.assign({ id: 'ocr-ev-05mm', ys: ocrEv05, errs: ocrEv05Err, color: '#000', kind: 'up', dash: DASH }, style));
  series(Object.assign({ id: 'ocr-ev', ys: ocrEv, errs: ocrEvErr, color: '#000', kind: 'circle' }, style));
  yAxis({ id: 'ocr', g, x: 337, y, ticks: ocrYTicks, labels: ocrYLabels, tickLen: 16, labelX: 313, cls: 's40', width: 4, tickWidth: 5, bottom: 3588 });
  seg('ocr-x-axis', 335, 3586, 1117, 3586, '#000', 6, g);
  xTicks({ id: 'ocr', g, x, ticks: ocrXTicks, labels: ocrXLabels, axisY: 3586, tickLen: 17, labelY: 3632, cls: 's40', width: 5 });
})();
(function () {
  const g = panel('panel-g3');
  const y = linear(0, 80, 4479, 3960);
  const x = linear(0, 60, 318, 1097);
  const style = { g, x, y, xs: ecarTimes, lw: 5, stem: 5, cap: 10, capW: 5, size: 10.5 };
  const DASH = '12 8', DOT = '4 10';
  series(Object.assign({ id: 'ecar-mll-2mm', ys: ecarMll2, errs: ecarMll2Err, color: '#f00', kind: 'up', dash: DOT }, style));
  series(Object.assign({ id: 'ecar-mll-05mm', ys: ecarMll05, errs: ecarMll05Err, color: '#f00', kind: 'down', dash: DASH }, style));
  series(Object.assign({ id: 'ecar-mll', ys: ecarMll, errs: ecarMllErr, color: '#f00', kind: 'circle' }, style));
  series(Object.assign({ id: 'ecar-ev-2mm', ys: ecarEv2, errs: ecarEv2Err, color: '#000', kind: 'up', dash: DOT }, style));
  series(Object.assign({ id: 'ecar-ev-05mm', ys: ecarEv05, errs: ecarEv05Err, color: '#000', kind: 'down', dash: DASH }, style));
  series(Object.assign({ id: 'ecar-ev', ys: ecarEv, errs: ecarEvErr, color: '#000', kind: 'circle' }, style));
  yAxis({ id: 'ecar', g, x: 318, y, ticks: ecarYTicks, labels: ecarYLabels, tickLen: 16, labelX: 294, cls: 's40', width: 4, tickWidth: 5, bottom: 4481 });
  seg('ecar-x-axis', 316, 4479, 1097, 4479, '#000', 6, g);
  xTicks({ id: 'ecar', g, x, ticks: ecarXTicks, labels: ecarXLabels, axisY: 4479, tickLen: 17, labelY: 4529, cls: 's40', width: 5 });
})();

/* ---------- Relative bar panels in G ---------- */
function doseBars(o) {
  o.doses.forEach((dose, i) => {
    const section = i < 3 ? 'basal' : 'maximal';
    const cx = i < 3 ? o.basal(i) : o.maximal(i - 3);
    bar({ id: o.id + '-bar-ev-' + section + '-' + dose, g: o.g, y: o.y, value: o.ev[i], err: o.evErr[i], cx: cx - o.offset, w: 40, fill: '#d3d3d3', edge: '#222', edgeWidth: 3, stem: 3, cap: 10, capW: 3 });
    bar({ id: o.id + '-bar-mll-af9-' + section + '-' + dose, g: o.g, y: o.y, value: o.mll[i], err: o.mllErr[i], cx: cx + o.offset, w: 40, fill: '#ffa0a0', edge: '#e8141c', edgeWidth: 3, stem: 3, cap: 10, capW: 3 });
    label(o.id + '-dose-label-' + section + '-' + dose, cx + o.labelShift, o.labelY, dose, 'm s44', o.g);
  });
}
(function () {
  const g = panel('panel-g2');
  const y = linear(0, 1.5, 3626, 3064);
  doseBars({ id: 'resp', g, y, doses: respDoses, ev: respEv, evErr: respEvErr, mll: respMll, mllErr: respMllErr,
    basal: linear(0, 2, 1958.5, 2203.5), maximal: linear(0, 2, 2367.5, 2612.5), offset: 30.5, labelShift: 0, labelY: 3682 });
  yAxis({ id: 'resp', g, x: 1877, y, ticks: respYTicks, labels: respYLabels, tickLen: 20, labelX: 1854, cls: 's43', width: 4, tickWidth: 5, bottom: 3628 });
  seg('resp-x-axis', 1857, 3626, 2695, 3626, '#000', 6, g);
})();
(function () {
  const g = panel('panel-g4');
  const y = linear(0, 1.5, 4533, 3971);
  doseBars({ id: 'path', g, y, doses: pathDoses, ev: pathEv, evErr: pathEvErr, mll: pathMll, mllErr: pathMllErr,
    basal: linear(0, 2, 1906.5, 2147.5), maximal: linear(0, 2, 2308, 2549), offset: 30, labelShift: 0, labelY: 4589 });
  yAxis({ id: 'path', g, x: 1827, y, ticks: pathYTicks, labels: pathYLabels, tickLen: 13, labelX: 1808, cls: 's43', width: 4, tickWidth: 5, bottom: 4535 });
  seg('path-x-axis', 1814, 4533, 2631, 4533, '#000', 6, g);
})();
</script>
</body>
</html>
